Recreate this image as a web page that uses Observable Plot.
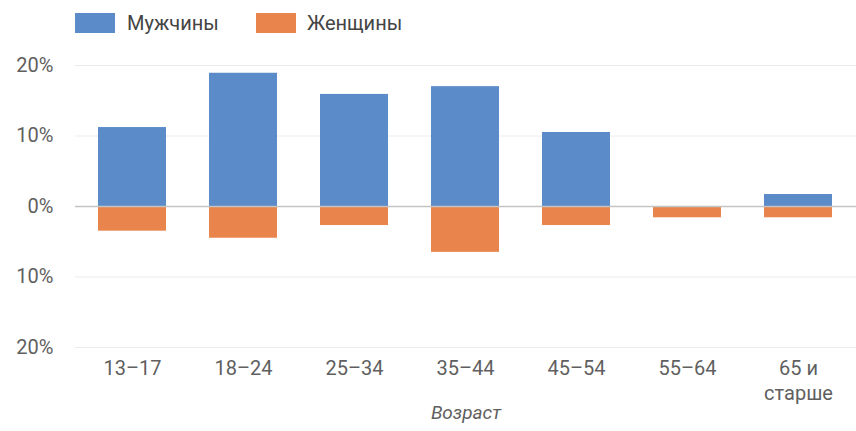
<!DOCTYPE html>
<html>
<head>
<meta charset="utf-8">
<script src="https://cdn.jsdelivr.net/npm/d3@7"></script>
<script src="https://cdn.jsdelivr.net/npm/@observablehq/plot@0.6"></script>
<style>
  body { margin: 0; background: #fff; font-family: Roboto, "Open Sans", sans-serif; }
  #legend { height: 46px; position: relative; font-size: 20px; color: #444; }
  .sw { position: absolute; top: 13px; width: 40px; height: 20px; }
  .lb { position: absolute; top: 10px; line-height: 26px; }
</style>
</head>
<body>
<div id="legend"></div>
<div id="chart"></div>
<script>
const ages = ["13–17", "18–24", "25–34", "35–44", "45–54", "55–64", "65 и\nстарше"];
const men = [11.2, 18.9, 15.9, 17.0, 10.5, 0, 1.7];
const women = [3.5, 4.5, 2.7, 6.5, 2.7, 1.6, 1.6];
const seriesNames = ["Мужчины", "Женщины"];
const seriesColors = ["#5b8bc8", "#e8844c"];
const yTicks = [-20, -10, 0, 10, 20];
const xTitle = "Возраст";

const rows = [];
ages.forEach((a, i) => {
  rows.push({age: a, sex: seriesNames[0], value: men[i]});
  rows.push({age: a, sex: seriesNames[1], value: -women[i]});
});

// legend
const legend = document.getElementById("legend");
const lx = [[75, 127], [256, 307]];
seriesNames.forEach((n, i) => {
  const s = document.createElement("div");
  s.className = "sw"; s.style.left = lx[i][0] + "px"; s.style.background = seriesColors[i];
  legend.appendChild(s);
  const t = document.createElement("div");
  t.className = "lb"; t.style.left = lx[i][1] + "px"; t.textContent = n;
  legend.appendChild(t);
});

const chart = Plot.plot({
  width: 856,
  height: 385,
  marginLeft: 75,
  marginRight: 0,
  marginTop: 19,
  marginBottom: 84,
  style: {fontFamily: "Roboto, sans-serif", fontSize: "20px", color: "#5f5f5f", background: "#fff"},
  x: {domain: ages, paddingInner: 0.385, paddingOuter: 0.1925, label: null},
  y: {domain: [-20, 20], label: null},
  color: {domain: seriesNames, range: seriesColors},
  marks: [
    Plot.ruleY(yTicks.filter(d => d !== 0), {stroke: "#ebebeb", strokeWidth: 1}),
    Plot.barY(rows, {x: "age", y: "value", fill: "sex"}),
    Plot.ruleY([0], {stroke: "#c4c4c4", strokeWidth: 1.5}),
    Plot.axisY({ticks: yTicks, tickSize: 0, tickPadding: 22, tickFormat: d => Math.abs(d) + "%", label: null, fontSize: 20}),
    Plot.axisX({tickSize: 0, tickPadding: 10, label: null, fontSize: 20, lineHeight: 1.25}),
    Plot.text([xTitle], {frameAnchor: "bottom", dy: 71, fontStyle: "italic", fontSize: 19, fill: "#5f5f5f"})
  ]
});
document.getElementById("chart").appendChild(chart);
</script>
</body>
</html>
